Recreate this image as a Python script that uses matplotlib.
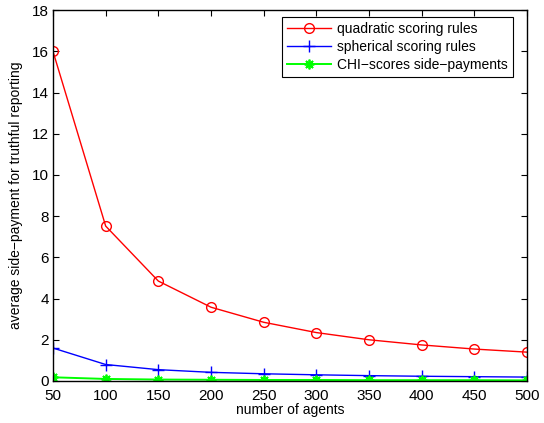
import matplotlib
matplotlib.use("Agg")
import matplotlib.pyplot as plt

agents = [50, 100, 150, 200, 250, 300, 350, 400, 450, 500]
quadratic = [16.0, 7.52, 4.85, 3.58, 2.85, 2.35, 2.0, 1.75, 1.55, 1.4]
spherical = [1.6, 0.8, 0.55, 0.42, 0.35, 0.3, 0.26, 0.23, 0.21, 0.19]
chi = [0.18, 0.1, 0.07, 0.06, 0.05, 0.05, 0.04, 0.04, 0.04, 0.03]
labels = ["quadratic scoring rules", "spherical scoring rules", "CHI\u2212scores side\u2212payments"]

plt.rcParams['font.family'] = ['Liberation Sans', 'DejaVu Sans']
fig = plt.figure(figsize=(5.44, 4.23), dpi=100)
ax = fig.add_axes([0.0974, 0.0993, 0.8716, 0.8767])
ax.plot(agents, quadratic, color='red', marker='o', markersize=7, markerfacecolor='none', markeredgecolor='red', lw=1, label=labels[0])
ax.plot(agents, spherical, color='blue', marker='+', markersize=8, lw=1, label=labels[1])
ax.plot(agents, chi, color='#00ff00', marker=(8, 2, 0), markersize=7, markeredgewidth=1.3, lw=1.4, label=labels[2])
ax.set_xlim(50, 500)
ax.set_ylim(0, 18)
ax.set_xticks(agents)
ax.set_yticks(range(0, 19, 2))
ax.tick_params(direction='in', top=True, right=True, labelsize=11, length=4)
ax.tick_params(axis='x', pad=6)
ax.tick_params(axis='y', pad=3)
ax.set_xlabel("number of agents", fontsize=10, labelpad=0)
ax.set_ylabel("average side\u2212payment for truthful reporting", fontsize=10, labelpad=6)
for s in ax.spines.values():
    s.set_linewidth(1)
leg = ax.legend(loc='upper right', bbox_to_anchor=(513 / 544, (423 - 17) / 423), bbox_transform=fig.transFigure,
                fontsize=10, frameon=True, fancybox=False, edgecolor='black', framealpha=1,
                borderpad=0.35, labelspacing=0.3, handlelength=3.2, borderaxespad=0.0, handletextpad=0.45)
leg.get_frame().set_linewidth(0.8)
fig.savefig("out.png", dpi=100)
